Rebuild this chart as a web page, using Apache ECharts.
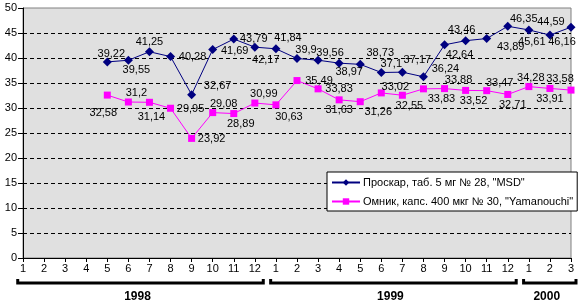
<!DOCTYPE html>
<html>
<head>
    <meta charset="utf-8">
    <title>ECharts</title>
    <script src="https://cdn.jsdelivr.net/npm/echarts@6/dist/echarts.min.js"></script>
</head>
<body style="margin:0">
    <div id="main" style="width:578px;height:305px;"></div>
    <script type="text/javascript">
        // data
        var years = ['1998', '1999', '2000'];
        var monthsInYear = [12, 12, 3];
        var proskar = [null, null, null, null, 39.22, 39.55, 41.25, 40.28, 32.67, 41.69, 43.79, 42.17,
            41.84, 39.9, 39.56, 38.97, 38.73, 37.1, 37.17, 36.24, 42.64, 43.46, 43.89, 46.35,
            45.61, 44.59, 46.16];
        var omnik = [null, null, null, null, 32.58, 31.2, 31.14, 29.95, 23.92, 29.08, 28.89, 30.99,
            30.63, 35.49, 33.83, 31.63, 31.26, 33.02, 32.55, 33.83, 33.88, 33.52, 33.47, 32.71,
            34.28, 33.91, 33.58];
        var names = ['Проскар, таб. 5 мг № 28, "MSD"', 'Омник, капс. 400 мкг № 30, "Yamanouchi"'];

        // label placement (offset from point, px)
        var proskarLbl = [null, null, null, null, [4, -8], [8, 10], [0, -10], [22, 0], [26, -9], [22, 1], [20, 0], [11, 13],
            [12, -11], [9, -9], [12, -7], [10, 9], [20, -11], [10, -9], [15, -12], [22, -8], [15, 10], [-4, -11], [24, 8], [16, -7],
            [3, 12], [1, -13], [-9, 15]];
        var omnikLbl = [null, null, null, null, [-4, 18], [8, -9], [2, 15], [20, 1], [20, 1], [11, -9], [7, 10], [9, -9],
            [13, 12], [22, 0], [21, 0], [0, 10], [18, 10], [14, -6], [7, 11], [18, 10], [14, -9], [8, 11], [13, -8], [5, 11],
            [2, -9], [0, 11], [-11, -11]];

        var categories = [];
        monthsInYear.forEach(function (n) {
            for (var m = 1; m <= n; m++) categories.push(String(m));
        });

        function build(vals, offs) {
            return vals.map(function (v, i) {
                if (v == null) return null;
                return {value: v, label: {offset: offs[i]}};
            });
        }

        var font = 'Liberation Sans, Arial, sans-serif';
        var lbl = {
            show: true, position: 'inside', color: '#000', fontSize: 11, fontFamily: font,
            formatter: function (p) { return String(p.value).replace('.', ','); }
        };

        var myChart = echarts.init(document.getElementById('main'));
        var option = {
            animation: false,
            textStyle: {fontFamily: font},
            grid: {left: 23, right: 7, top: 8, bottom: 47, show: true,
                backgroundColor: '#e0e0e0', borderColor: '#808080', borderWidth: 1},
            legend: {
                orient: 'vertical', left: 327, top: 172, width: 242,
                backgroundColor: '#fff', borderColor: '#000', borderWidth: 1,
                padding: [5, 4, 4, 4], itemGap: 8, itemWidth: 28, itemHeight: 8,
                textStyle: {fontSize: 11, color: '#000', fontFamily: font, padding: [0, 0, 0, -2]}
            },
            xAxis: {
                type: 'category', data: categories, boundaryGap: false,
                axisLine: {lineStyle: {color: '#000'}},
                axisTick: {length: 4, interval: 0, lineStyle: {color: '#000'}},
                axisLabel: {interval: 0, color: '#000', fontSize: 11, margin: 5},
                splitLine: {show: false}
            },
            yAxis: {
                type: 'value', min: 0, max: 50, interval: 5,
                axisLine: {show: true, lineStyle: {color: '#000'}},
                axisTick: {show: true, length: 5, lineStyle: {color: '#000'}},
                axisLabel: {color: '#000', fontSize: 11, margin: 6},
                splitLine: {show: true, showMinLine: false, showMaxLine: false,
                    lineStyle: {color: '#000', type: [4, 3], width: 1}}
            },
            series: [
                {
                    name: names[0], type: 'line', data: build(proskar, proskarLbl),
                    color: '#000080', symbol: 'diamond', symbolSize: 9, showAllSymbol: true,
                    lineStyle: {width: 1}, label: lbl, z: 3
                },
                {
                    name: names[1], type: 'line', data: build(omnik, omnikLbl),
                    color: '#ff00ff', symbol: 'rect', symbolSize: 7, showAllSymbol: true,
                    lineStyle: {width: 1}, label: lbl, z: 2
                }
            ]
        };
        myChart.setOption(option);

        // year brackets under the month labels
        var x0 = myChart.convertToPixel({xAxisIndex: 0}, 0);
        var x1 = myChart.convertToPixel({xAxisIndex: 0}, 1);
        var step = x1 - x0;
        var yb = 283;
        var graphics = [];
        var start = 0;
        years.forEach(function (y, k) {
            var end = start + monthsInYear[k] - 1;
            var a = x0 + (start - 0.25) * step;
            var b = Math.min(x0 + (end + 0.4) * step, 576);
            graphics.push({
                type: 'polyline', shape: {points: [[a, yb - 4], [a, yb], [b, yb], [b, yb - 4]]},
                style: {stroke: '#000', lineWidth: 3, fill: null}
            });
            graphics.push({
                type: 'text', x: (a + b) / 2 - 3, y: 297,
                style: {text: y, fill: '#000', font: 'bold 12px ' + font, textAlign: 'center', textVerticalAlign: 'middle'}
            });
            start = end + 1;
        });
        myChart.setOption({graphic: graphics});
    </script>
</body>
</html>
